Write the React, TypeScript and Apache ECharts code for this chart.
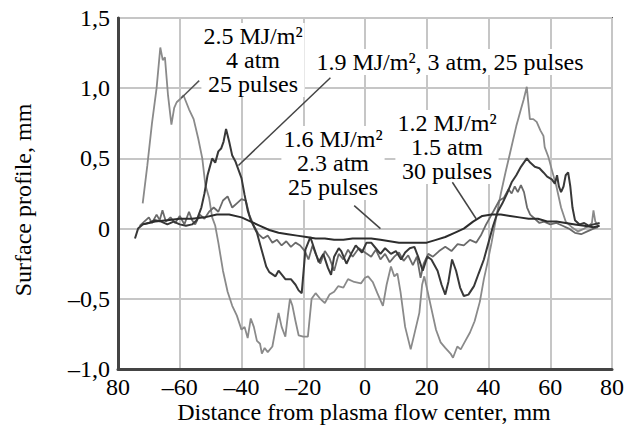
import { useEffect, useRef } from "react";
import * as echarts from "echarts";

const FONT = '"Liberation Serif", "Times New Roman", serif';

const xTicks = [-80, -60, -40, -20, 0, 20, 40, 60, 80];
const xTickLabels = ["80", "–60", "–40", "–20", "0", "20", "40", "60", "80"];
const yTicks = [-1, -0.5, 0, 0.5, 1, 1.5];
const yTickLabels = ["–1,0", "–0,5", "0", "0,5", "1,0", "1,5"];

const xTitle = "Distance from plasma flow center, mm";
const yTitle = "Surface profile, mm";

// 2.5 MJ/m2, 4 atm, 25 pulses
const profile25: number[][] = [
  [-72, 0.18], [-70.5, 0.45], [-69, 0.75], [-67.5, 1.0], [-66.3, 1.29], [-65.5, 1.2], [-64.8, 1.22],
  [-63.8, 0.95], [-62.7, 0.74], [-61.8, 0.86], [-61, 0.9], [-59.5, 0.93], [-58.8, 0.95], [-57, 0.85],
  [-55.5, 0.78], [-54, 0.64], [-52.7, 0.5], [-51.7, 0.31], [-50.5, 0.22], [-49.5, 0.08], [-48.5, 0.02],
  [-47.5, -0.1], [-46, -0.3], [-44.5, -0.45], [-43, -0.55], [-41.5, -0.62], [-40, -0.72], [-39, -0.7],
  [-38, -0.78], [-37, -0.64], [-36, -0.7], [-35, -0.8], [-34, -0.82], [-33.4, -0.89], [-32.5, -0.85],
  [-31.5, -0.88], [-30, -0.84], [-29, -0.72], [-28, -0.6], [-27, -0.7], [-25.8, -0.77], [-25, -0.62],
  [-24.3, -0.5], [-23.5, -0.55], [-22.5, -0.66], [-21.5, -0.76], [-20, -0.77], [-18.5, -0.77],
  [-17.3, -0.5], [-16, -0.46], [-14.5, -0.5], [-13, -0.53], [-11.5, -0.47], [-10, -0.45], [-8.7, -0.41],
  [-7, -0.42], [-5.5, -0.36], [-3.5, -0.38], [-1.3, -0.39], [0, -0.35], [1, -0.34], [2.5, -0.38],
  [4, -0.46], [5.8, -0.55], [7, -0.4], [8.4, -0.27], [9.5, -0.34], [10.5, -0.32], [11.5, -0.45],
  [13, -0.7], [14.8, -0.86], [16, -0.75], [17.6, -0.6], [18.5, -0.4], [19.2, -0.34], [20.3, -0.45],
  [21.8, -0.6], [23, -0.72], [24.5, -0.81], [26, -0.85], [27.7, -0.89], [28.5, -0.92], [29.9, -0.84],
  [31, -0.86], [32.5, -0.8], [34, -0.74], [35.5, -0.66], [37.2, -0.52], [38.5, -0.36], [39.5, -0.26],
  [41, -0.1], [42.5, 0.08], [44, 0.25], [45.5, 0.4], [47, 0.54], [49, 0.73], [50.5, 0.85], [51.4, 0.92],
  [52.4, 1.01], [53.4, 0.78], [54.5, 0.78], [55.6, 0.76], [56.8, 0.7], [57.8, 0.66], [58.2, 0.58],
  [59.4, 0.51], [60.5, 0.42], [62, 0.3], [63.5, 0.15], [65, 0.05], [67, 0.01], [69, -0.02], [71, 0.0],
  [72.5, 0.02], [73.5, 0.04], [74, 0.13], [74.6, 0.05], [75.5, 0.02],
];

// 1.9 MJ/m2, 3 atm, 25 pulses
const profile19: number[][] = [
  [-74.5, -0.07], [-73.5, 0.0], [-72, 0.03], [-70, 0.04], [-68, 0.06], [-66, 0.05], [-64, 0.03],
  [-62, 0.05], [-60, 0.03], [-58, 0.02], [-56, 0.03], [-54.5, 0.06], [-53, 0.15], [-52, 0.25],
  [-51, 0.38], [-50.5, 0.42], [-49.5, 0.5], [-48.5, 0.47], [-47.5, 0.55], [-46.6, 0.57], [-45.8, 0.62],
  [-45, 0.71], [-44, 0.62], [-43, 0.52], [-42, 0.48], [-41, 0.42], [-40, 0.36], [-39, 0.24], [-38, 0.13],
  [-37, 0.06], [-35, -0.03], [-33.5, -0.15], [-32, -0.27], [-31, -0.31], [-29, -0.34], [-28, -0.3],
  [-26.5, -0.34], [-25.8, -0.36], [-24, -0.36], [-22.5, -0.4], [-21.5, -0.44], [-20.5, -0.46],
  [-19.3, -0.15], [-17.7, -0.06], [-16.5, -0.14], [-15, -0.24], [-13.5, -0.18], [-12, -0.28],
  [-11, -0.33], [-10, -0.2], [-8.5, -0.14], [-7.7, -0.16], [-6, -0.25], [-4.5, -0.18], [-3, -0.12],
  [-1, -0.17], [0.5, -0.1], [2, -0.1], [3.5, -0.14], [5, -0.18], [6.5, -0.14], [8.4, -0.18], [10, -0.16],
  [11.7, -0.22], [13, -0.17], [14.5, -0.14], [16, -0.13], [17.2, -0.2], [18.7, -0.3], [20.2, -0.2],
  [21.5, -0.22], [23.5, -0.3], [24.8, -0.4], [26, -0.47], [27, -0.38], [28.2, -0.22], [29.5, -0.3],
  [30.8, -0.42], [32, -0.48], [33.5, -0.47], [35.3, -0.41], [36.8, -0.32], [38.5, -0.22], [40, -0.1],
  [41.5, 0.02], [43, 0.12], [44.5, 0.18], [46, 0.25], [47.5, 0.33], [49, 0.38], [50.5, 0.44],
  [52.4, 0.5], [53.5, 0.47], [55, 0.44], [56.5, 0.43], [57.8, 0.4], [59, 0.37], [60.5, 0.35],
  [61.5, 0.32], [62.2, 0.38], [62.8, 0.3], [63.5, 0.26], [64.3, 0.3], [65, 0.38], [65.8, 0.4],
  [66.5, 0.3], [67.2, 0.15], [68, 0.06], [69.5, 0.03], [71, 0.04], [72.5, 0.02], [74, 0.03], [76, 0.04],
];

// 1.6 MJ/m2, 2.3 atm, 25 pulses
const profile16: number[][] = [
  [-73, 0.02], [-71.5, 0.05], [-70, 0.08], [-69, 0.04], [-67.5, 0.1], [-66.5, 0.06], [-65.6, 0.13],
  [-64.5, 0.05], [-63, 0.08], [-61.5, 0.04], [-60, 0.09], [-58.5, 0.03], [-57, 0.12], [-56, 0.06],
  [-55, 0.03], [-53.5, 0.1], [-52, 0.07], [-50.5, 0.12], [-49, 0.15], [-47.5, 0.12], [-46, 0.2],
  [-44.5, 0.23], [-43, 0.15], [-41.5, 0.18], [-40, 0.21], [-38.6, 0.2], [-37.5, 0.1], [-36, 0.02],
  [-34.5, -0.04], [-33, -0.07], [-31.5, -0.05], [-30, -0.1], [-28.5, -0.08], [-27, -0.12], [-25.5, -0.09],
  [-24, -0.13], [-22.5, -0.1], [-21, -0.12], [-19.5, -0.16], [-18.3, -0.22], [-17, -0.12], [-16, -0.18],
  [-14.5, -0.25], [-13, -0.16], [-11.5, -0.21], [-10, -0.3], [-8.5, -0.18], [-7, -0.22], [-5.5, -0.15],
  [-4, -0.2], [-2, -0.14], [0, -0.17], [2, -0.2], [3.5, -0.15], [5, -0.22], [6.5, -0.18], [8, -0.24],
  [9.5, -0.2], [11, -0.17], [12.5, -0.23], [14, -0.19], [15.5, -0.26], [16.8, -0.2], [18, -0.35],
  [19, -0.25], [20.5, -0.18], [22, -0.2], [24, -0.16], [26, -0.13], [28, -0.16], [30, -0.11], [32, -0.12],
  [34, -0.08], [36, -0.1], [37.5, -0.05], [39, 0.02], [40.5, 0.08], [42, 0.14], [43.5, 0.2], [45, 0.22],
  [46.5, 0.28], [47.5, 0.25], [48.5, 0.3], [49.5, 0.26], [50.5, 0.31], [51.5, 0.26], [52.5, 0.15],
  [53.5, 0.1], [55, 0.07], [56.5, 0.04], [58, 0.05], [60, 0.03], [62, 0.04], [64, 0.02], [66, 0.0],
  [68, -0.03], [70, -0.04], [72, -0.02], [74, 0.0], [75.5, 0.01],
];

// 1.2 MJ/m2, 1.5 atm, 30 pulses
const profile12: number[][] = [
  [-72, 0.03], [-68, 0.05], [-64, 0.06], [-60, 0.07], [-56, 0.07], [-52, 0.08], [-48, 0.1], [-44, 0.1],
  [-40, 0.08], [-37, 0.05], [-34, 0.02], [-31, -0.01], [-28, -0.03], [-25, -0.04], [-22, -0.05],
  [-19, -0.06], [-16, -0.07], [-13, -0.07], [-10, -0.08], [-7, -0.08], [-4, -0.07], [-1, -0.07],
  [2, -0.07], [5, -0.08], [8, -0.09], [11, -0.1], [14, -0.1], [17, -0.1], [20, -0.1], [23, -0.08],
  [26, -0.06], [29, -0.03], [32, 0.0], [35, 0.05], [38, 0.09], [41, 0.1], [44, 0.1], [47, 0.09],
  [50, 0.08], [53, 0.07], [56, 0.07], [59, 0.05], [62, 0.05], [65, 0.04], [68, 0.03], [71, 0.02],
  [74, 0.01], [76, 0.02],
];

// leader lines: [label end, curve point] in data units
const leader25: number[][] = [[-53.7, 1.054], [-59.5, 0.93]];
const leader19: number[][] = [[-11.2, 1.075], [-41, 0.45]];
const leader16: number[][] = [[-3.5, 0.164], [5, 0.0]];
const leader12: number[][] = [[28.3, 0.33], [36, 0.07]];

const label25 = "2.5 MJ/m²\n4 atm\n25 pulses";
const label19 = "1.9 MJ/m², 3 atm, 25 pulses";
const label16 = "1.6 MJ/m²\n2.3 atm\n25 pulses";
const label12 = "1.2 MJ/m²\n1.5 atm\n30 pulses";

export default function App() {
  const ref = useRef<HTMLDivElement>(null);
  useEffect(() => {
    const chart = echarts.init(ref.current!, null, { renderer: "svg" });
    const curve = (data: number[][], color: string, width: number, z = 2) => ({
      type: "line",
      data,
      symbol: "none",
      silent: true,
      z,
      lineStyle: { color, width },
    });
    const labelText = (text: string, x: number, y: number) => ({
      type: "text",
      x,
      y,
      z: 1,
      style: {
        text,
        fill: "#000",
        font: `24px ${FONT}`,
        fontSize: 24,
        fontFamily: FONT,
        lineHeight: 24,
        align: "center",
        verticalAlign: "middle",
        backgroundColor: "#fff",
        padding: [1, 2],
      },
    });
    chart.setOption({
      animation: false,
      backgroundColor: "#fff",
      grid: {
        left: 118,
        right: 11,
        top: 18,
        bottom: 56,
        show: true,
        borderColor: "#555",
        borderWidth: 2,
        backgroundColor: "transparent",
      },
      xAxis: {
        type: "value",
        min: -80,
        max: 80,
        interval: 20,
        axisLine: { show: true, onZero: false, lineStyle: { color: "#444", width: 3 } },
        axisTick: { show: false },
        splitLine: { show: true, lineStyle: { color: "#c6c6c6", width: 2 } },
        axisLabel: {
          margin: 6,
          color: "#000",
          fontSize: 24,
          fontFamily: FONT,
          formatter: (v: number) => {
            const i = xTicks.indexOf(Math.round(v));
            return i >= 0 ? xTickLabels[i] : "";
          },
        },
      },
      yAxis: {
        type: "value",
        min: -1,
        max: 1.5,
        interval: 0.5,
        axisLine: { show: true, onZero: false, lineStyle: { color: "#444", width: 3 } },
        axisTick: { show: false },
        splitLine: { show: true, lineStyle: { color: "#c6c6c6", width: 2 } },
        axisLabel: {
          margin: 8,
          color: "#000",
          fontSize: 24,
          fontFamily: FONT,
          formatter: (v: number) => {
            const i = yTicks.findIndex((t) => Math.abs(t - v) < 1e-6);
            return i >= 0 ? yTickLabels[i] : "";
          },
        },
      },
      series: [
        curve(profile25, "#8a8a8a", 1.8),
        curve(profile16, "#6a6a6a", 1.8),
        curve(profile19, "#383838", 2),
        curve(profile12, "#2c2c2c", 2),
        curve(leader25, "#555", 1.5, 3),
        curve(leader19, "#444", 1.5, 3),
        curve(leader16, "#444", 1.5, 3),
        curve(leader12, "#444", 1.5, 3),
      ],
      graphic: [
        labelText(label25, 253, 60),
        labelText(label19, 450, 62),
        labelText(label16, 333, 163),
        labelText(label12, 447, 147),
        {
          type: "text",
          x: 364,
          y: 412,
          style: {
            text: xTitle,
            fill: "#000",
            fontSize: 24,
            fontFamily: FONT,
            align: "center",
            verticalAlign: "middle",
          },
        },
        {
          type: "text",
          x: 23,
          y: 200,
          rotation: Math.PI / 2,
          style: {
            text: yTitle,
            fill: "#000",
            fontSize: 24,
            fontFamily: FONT,
            align: "center",
            verticalAlign: "middle",
          },
        },
      ],
    });
    return () => chart.dispose();
  }, []);
  return (
    <div
      ref={ref}
      style={{ position: "fixed", left: 0, top: 0, width: 627, height: 425, background: "#fff" }}
    />
  );
}
